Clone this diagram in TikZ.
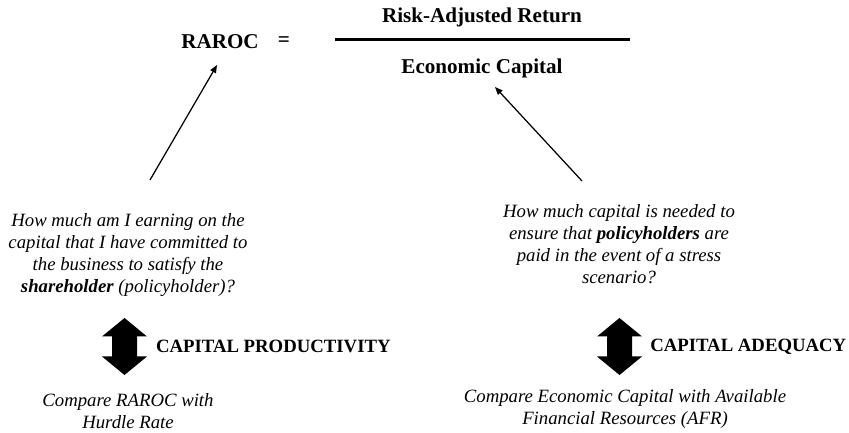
\documentclass[tikz,border=0pt]{standalone}
\usepackage{fontspec}
\setmainfont{Liberation Serif}
\usepackage{tikz}
\usetikzlibrary{arrows.meta,positioning}

\begin{document}
\begin{tikzpicture}[
  x=0.64pt,y=-0.64pt,
  head/.style={inner sep=0pt,font=\fontsize{13.5}{16}\selectfont\bfseries},
  ask/.style={inner sep=0pt,align=center,font=\fontsize{12}{14.1}\selectfont\itshape},
  tag/.style={inner sep=0pt,font=\fontsize{12}{14}\selectfont\bfseries},
  ptr/.style={-{Triangle[length=5pt,width=4pt]},line width=0.8pt},
  updown/.pic={\fill (0,-28.5) -- (22.5,-10) -- (12.5,-10) -- (12.5,10) -- (22.5,10) -- (0,28.5)
    -- (-22.5,10) -- (-12.5,10) -- (-12.5,-10) -- (-22.5,-10) -- cycle;}
]
\useasboundingbox (0,0) rectangle (849,433);
% formula
\node[head] (raroc) at (220,42) {RAROC};
\node[head] (eq) at (284,42) {=};
\node[head] (ret) at (482,17) {Risk-Adjusted Return};
\node[head] (ecap) at (482,68) {Economic Capital};
\draw[line width=1.6pt] (335,39.5) -- (630,39.5);
% questions
\node[ask] (qL) at (128,255) {How much am I earning on the\\capital that I have committed to\\the business to satisfy the\\\textbf{shareholder} (policyholder)?};
\node[ask] (qR) at (619,244) {How much capital is needed to\\ensure that \textbf{policyholders} are\\paid in the event of a stress\\scenario?};
\coordinate (tailL) at (150,180);
\coordinate (tipL) at (217,65);
\coordinate (tailR) at (582,181);
\coordinate (tipR) at (495,87);
\draw[ptr] (tailL) -- (tipL);
\draw[ptr] (tailR) -- (tipR);
% double arrows
\coordinate (dL) at (124.5,346.5);
\coordinate (dR) at (619.5,346.5);
\pic at (dL) {updown};
\pic at (dR) {updown};
\node[tag,right=20pt of dL] (prod) {CAPITAL PRODUCTIVITY};
\node[tag,right=19.5pt of dR] (adeq) {CAPITAL ADEQUACY};
\node[ask] (cmpL) at (128,411) {Compare RAROC with\\Hurdle Rate};
\node[ask] (cmpR) at (625,409) {Compare Economic Capital with Available\\Financial Resources (AFR)};
\end{tikzpicture}
\end{document}
